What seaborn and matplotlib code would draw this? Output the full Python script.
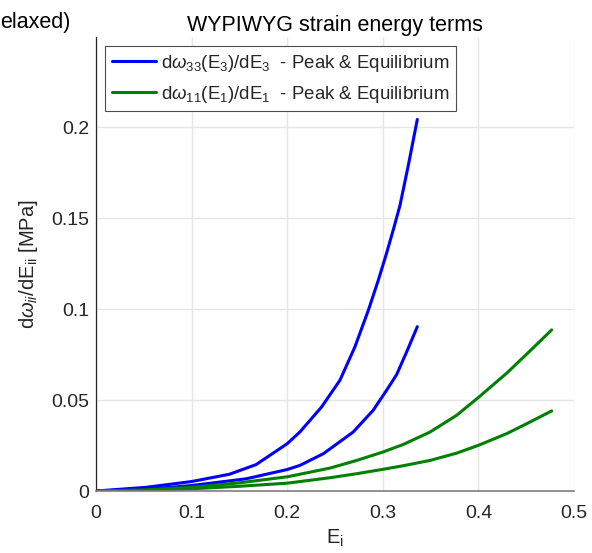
import numpy as np
import pandas as pd
import seaborn as sns
import matplotlib.pyplot as plt

# strain E_3 and d(w33)/dE_3 [MPa], peak and equilibrium curves
e3_peak = [0, 0.052, 0.1, 0.1395, 0.1674, 0.2, 0.2134, 0.236, 0.2552, 0.2709, 0.285,
           0.2954, 0.304, 0.311, 0.318, 0.3267, 0.3361]
dw33_peak = [0, 0.002, 0.0052, 0.0092, 0.0145, 0.026, 0.0325, 0.0462, 0.0609, 0.0793, 0.0995,
             0.116, 0.1308, 0.1436, 0.157, 0.179, 0.2042]
e3_eq = [0, 0.05, 0.1, 0.157, 0.2, 0.2134, 0.2378, 0.269, 0.290, 0.304, 0.3145, 0.325, 0.3361]
dw33_eq = [0, 0.0008, 0.003, 0.0067, 0.0118, 0.0141, 0.0205, 0.0324, 0.0444, 0.0554, 0.0640,
           0.0765, 0.0903]

# strain E_1 and d(w11)/dE_1 [MPa]
e1 = [0, 0.05, 0.1, 0.15, 0.2, 0.2448, 0.2727, 0.3, 0.3215, 0.3494, 0.3772, 0.4, 0.4295,
      0.454, 0.4766]
dw11_peak = [0, 0.0006, 0.002, 0.0045, 0.0078, 0.0126, 0.0168, 0.0214, 0.0256, 0.0324, 0.0416,
             0.0514, 0.0647, 0.0770, 0.0885]
dw11_eq = [0, 0.0003, 0.0012, 0.0026, 0.0043, 0.0073, 0.0095, 0.0119, 0.0139, 0.0168, 0.0208,
           0.0251, 0.0315, 0.0379, 0.0440]

xticks = [0, 0.1, 0.2, 0.3, 0.4, 0.5]
xticklabels = ['0', '0.1', '0.2', '0.3', '0.4', '0.5']
yticks = [0, 0.05, 0.1, 0.15, 0.2]
yticklabels = ['0', '0.05', '0.1', '0.15', '0.2']

sns.set_theme(style="white")
plt.rcParams['font.family'] = ['Liberation Sans', 'DejaVu Sans']
plt.rcParams['mathtext.fontset'] = 'custom'
plt.rcParams['mathtext.rm'] = 'Liberation Sans'
plt.rcParams['mathtext.it'] = 'Liberation Sans:italic'
plt.rcParams['mathtext.bf'] = 'Liberation Sans:bold'

dark = '#262626'
blue = '#0000ff'
green = '#008000'

fig = plt.figure(figsize=(5.92, 5.53), dpi=100)
ax = fig.add_axes([96 / 592, 62 / 553, 478 / 592, 454 / 553])

lab33 = r'd$\omega_{33}\mathrm{(E_3)/dE_3}$  - Peak & Equilibrium'
lab11 = r'd$\omega_{11}\mathrm{(E_1)/dE_1}$  - Peak & Equilibrium'

sns.lineplot(x=e3_peak, y=dw33_peak, color=blue, lw=2.2, ax=ax, label=lab33)
sns.lineplot(x=e3_eq, y=dw33_eq, color=blue, lw=2.2, ax=ax)
sns.lineplot(x=e1, y=dw11_peak, color=green, lw=2.2, ax=ax, label=lab11)
sns.lineplot(x=e1, y=dw11_eq, color=green, lw=2.2, ax=ax)

ax.set_xlim(0, 0.5)
ax.set_ylim(0, 0.2495)
ax.set_xticks(xticks)
ax.set_xticklabels(xticklabels)
ax.set_yticks(yticks)
ax.set_yticklabels(yticklabels)
ax.grid(True, color='#e6e6e6', lw=1.0)
ax.set_axisbelow(True)

for s in ['top', 'right']:
    ax.spines[s].set_visible(False)
ax.spines['left'].set_color(dark)
ax.spines['bottom'].set_color('#7f7f7f')
ax.spines['left'].set_linewidth(0.9)
ax.spines['bottom'].set_linewidth(1.2)
ax.tick_params(direction='in', length=4, width=0.8, colors=dark, labelsize=14)
ax.tick_params(axis='x', pad=10)
ax.tick_params(axis='y', pad=5)

ax.set_xlabel(r'$\mathrm{E_i}$', fontsize=14.5, color=dark, labelpad=4)
ax.set_ylabel(r'd$\omega_{ii}\mathrm{/dE_{ii}}$ [MPa]', fontsize=14.5, color=dark, labelpad=8)
ax.set_title('WYPIWYG strain energy terms', fontsize=15.5, color='black', pad=4)

leg = ax.legend(loc='upper left', bbox_to_anchor=(9 / 478, 1 - 9 / 454), borderaxespad=0,
                fontsize=13.4, handlelength=2.4, handletextpad=0.28, labelspacing=0.55,
                borderpad=0.35, fancybox=False, framealpha=1, edgecolor='#4d4d4d')
leg.get_frame().set_linewidth(0.8)

# title of the neighbouring panel, cut off by the figure edge
fig.text(0.0, 1 - 28 / 553, 'elaxed)', fontsize=15.5, color='black', va='baseline', ha='left')

fig.savefig('out.png', dpi=100)
